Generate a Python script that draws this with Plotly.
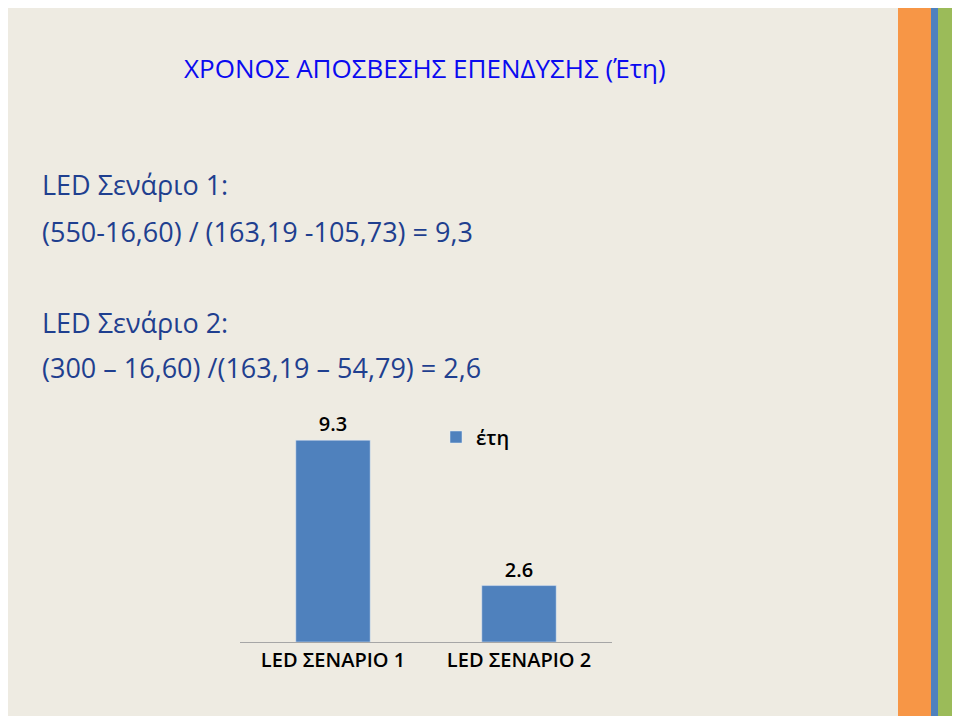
import plotly.graph_objects as go

# Data
categories = ["LED ΣΕΝΑΡΙΟ 1", "LED ΣΕΝΑΡΙΟ 2"]
years = [9.3, 2.6]
series_name = "έτη"

OFF = 8  # page body margin
W, H = 960 - OFF, 716 - OFF
BG = "#EEEBE2"
FONT = "Open Sans"

fig = go.Figure(go.Bar(
    x=categories, y=years, name=series_name,
    marker_color="#4F81BD", width=0.4,
    text=[f"{v:.1f}" for v in years], textposition="outside",
    textfont=dict(family=FONT, size=20, color="black", weight=600),
    cliponaxis=False, showlegend=True,
))

def px(x): return (x - OFF) / W
def py(y): return 1 - (y - OFF) / H

# slide text
texts = [
    (182, 68, "ΧΡΟΝΟΣ ΑΠΟΣΒΕΣΗΣ ΕΠΕΝΔΥΣΗΣ (Έτη)", "#0A0AF0", 26),
    (40, 184, "LED Σενάριο 1:", "#1F3F8F", 27),
    (40, 232, "(550-16,60) / (163,19 -105,73) = 9,3", "#1F3F8F", 27),
    (40, 322, "LED Σενάριο 2:", "#1F3F8F", 27),
    (40, 367, "(300 – 16,60) /(163,19 – 54,79) = 2,6", "#1F3F8F", 27),
]
anns = [dict(x=px(x), y=py(y), xref="paper", yref="paper", text=t, showarrow=False,
             xanchor="left", yanchor="middle", font=dict(family=FONT, size=s, color=c))
        for x, y, t, c, s in texts]

# decorative stripes on the right
stripes = [(898, 931, "#F79646"), (931, 938, "#4F81BD"), (938, 957, "#9BBB59")]
shapes = [dict(type="rect", xref="paper", yref="paper", x0=px(a), x1=px(b), y0=0, y1=1,
               fillcolor=c, line_width=0, layer="below") for a, b, c in stripes]

fig.update_layout(
    width=W, height=H, margin=dict(l=0, r=0, t=0, b=0),
    paper_bgcolor=BG, plot_bgcolor=BG,
    annotations=anns, shapes=shapes,
    font=dict(family=FONT, color="black"),
    xaxis=dict(domain=[px(240), px(612)], showline=True, linecolor="#A6A6A6", linewidth=1,
               ticks="", tickfont=dict(family=FONT, size=20, color="black", weight=600)),
    yaxis=dict(domain=[py(642), py(420)], range=[0, 10.23], visible=False),
    legend=dict(x=px(436), y=py(437), xanchor="left", yanchor="middle",
                bgcolor="rgba(0,0,0,0)",
                font=dict(family=FONT, size=20, color="black", weight=600)),
    bargap=0.6,
)

fig.write_html("out.html")
